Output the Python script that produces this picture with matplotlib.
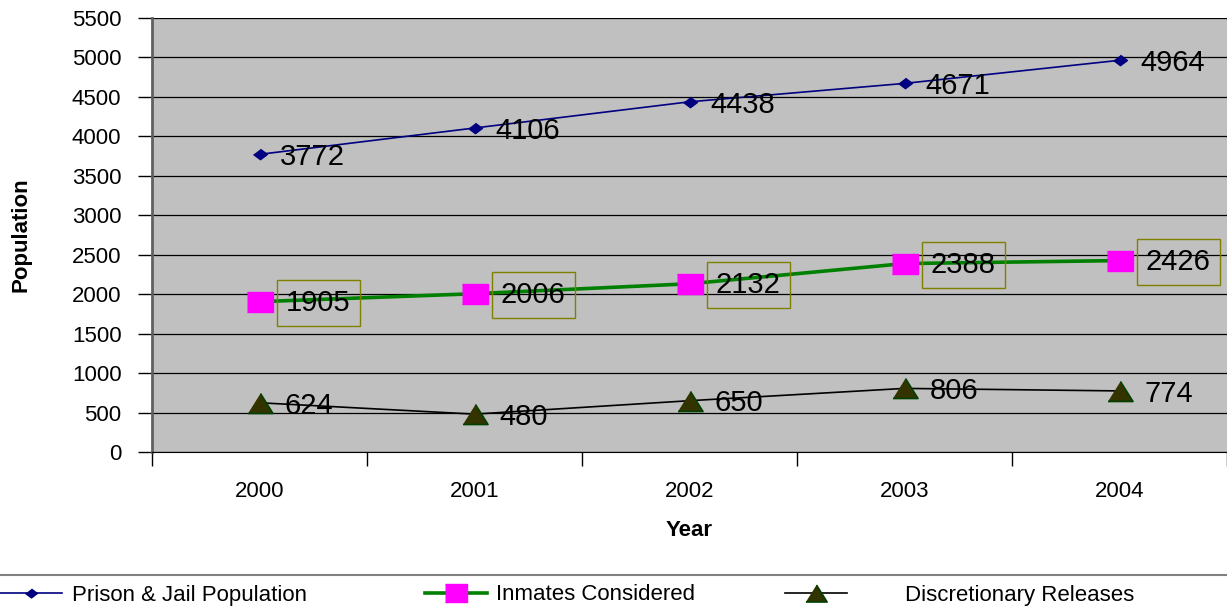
import matplotlib.pyplot as plt
from matplotlib.lines import Line2D

plt.rcParams['font.family'] = ['Liberation Sans', 'DejaVu Sans']

# данные с графика
years = ['2000', '2001', '2002', '2003', '2004']
prison = [3772, 4106, 4438, 4671, 4964]
inmates = [1905, 2006, 2132, 2388, 2426]
releases = [624, 480, 650, 806, 774]
series_names = ['Prison & Jail Population', 'Inmates Considered', 'Discretionary Releases']

x = list(range(len(years)))

fig = plt.figure(figsize=(12.27, 6.12), dpi=100)
ax = fig.add_axes([152 / 1227, 1 - 452 / 612, 1075 / 1227, 434 / 612])
ax.set_facecolor('#C0C0C0')

# маркеры в стиле Excel (чуть приплюснутые)
diamond = [(0, 0.75), (1, 0), (0, -0.75), (-1, 0)]
rect = [(-1, -0.77), (1, -0.77), (1, 0.77), (-1, 0.77)]
tri = [(-1, -0.8), (1, -0.8), (0, 0.8)]

l1, = ax.plot(x, prison, color='#000080', lw=1.2, marker=diamond, ms=10,
              mfc='#000080', mec='#000080', zorder=4)
l2, = ax.plot(x, inmates, color='#008000', lw=2.6, marker=rect, ms=19,
              mfc='#FF00FF', mec='#FF00FF', zorder=4)
l3, = ax.plot(x, releases, color='black', lw=1.2, marker=tri, ms=18,
              mfc='#333300', mec='#004000', mew=1.2, zorder=4)

# подписи значений
for i in x:
    ax.annotate(str(prison[i]), (x[i], prison[i]), xytext=(15, -2), textcoords='offset points',
                ha='left', va='center', fontsize=21, zorder=5)
    ax.annotate(str(inmates[i]), (x[i], inmates[i]), xytext=(19, -1), textcoords='offset points',
                ha='left', va='center', fontsize=21, zorder=5, annotation_clip=False,
                bbox=dict(boxstyle='square,pad=0.32', fc='none', ec='#808000', lw=1))
    ax.annotate(str(releases[i]), (x[i], releases[i]), xytext=(18, -2), textcoords='offset points',
                ha='left', va='center', fontsize=21, zorder=5)

ax.set_ylim(0, 5500)
ax.set_yticks(range(0, 5501, 500))
ax.yaxis.grid(True, color='black', lw=0.9)
ax.set_axisbelow(True)
ax.tick_params(axis='y', length=10, width=1, pad=12, labelsize=16)

ax.set_xlim(-0.5, 4.5)
ax.set_xticks([i - 0.5 for i in range(len(years) + 1)])
ax.set_xticklabels([])
ax.set_xticks(x, minor=True)
ax.set_xticklabels(years, minor=True)
ax.tick_params(axis='x', which='major', length=10, width=1)
ax.tick_params(axis='x', which='minor', length=0, pad=21, labelsize=16)

for s in ['top', 'right']:
    ax.spines[s].set_visible(False)
ax.spines['left'].set_color('#606060')
ax.spines['left'].set_linewidth(2)
ax.spines['bottom'].set_color('black')

ax.set_ylabel('Population', fontsize=16, fontweight='bold')
ax.yaxis.set_label_coords(-0.112, 0.5)
ax.set_xlabel('Year', fontsize=16, fontweight='bold')
ax.xaxis.set_label_coords(0.5, -0.156)

# линия над легендой
fig.add_artist(Line2D([0, 1], [1 - 575 / 612, 1 - 575 / 612], color='#808080', lw=1.5))

# легенда: каждый элемент отдельно, чтобы стоял на своём месте
leg_x = [0, 425, 785]
leg_gap = [0.45, 0.4, 2.6]
handles = [l1, l2, l3]
for h, name, lx, gap in zip(handles, series_names, leg_x, leg_gap):
    leg = fig.legend([h], [name], loc='center left', bbox_to_anchor=(lx / 1227, 17 / 612),
                     frameon=False, fontsize=16, handlelength=2.8, handletextpad=gap,
                     borderpad=0, borderaxespad=0, markerscale=0.85)

fig.savefig('out.png', dpi=100)
